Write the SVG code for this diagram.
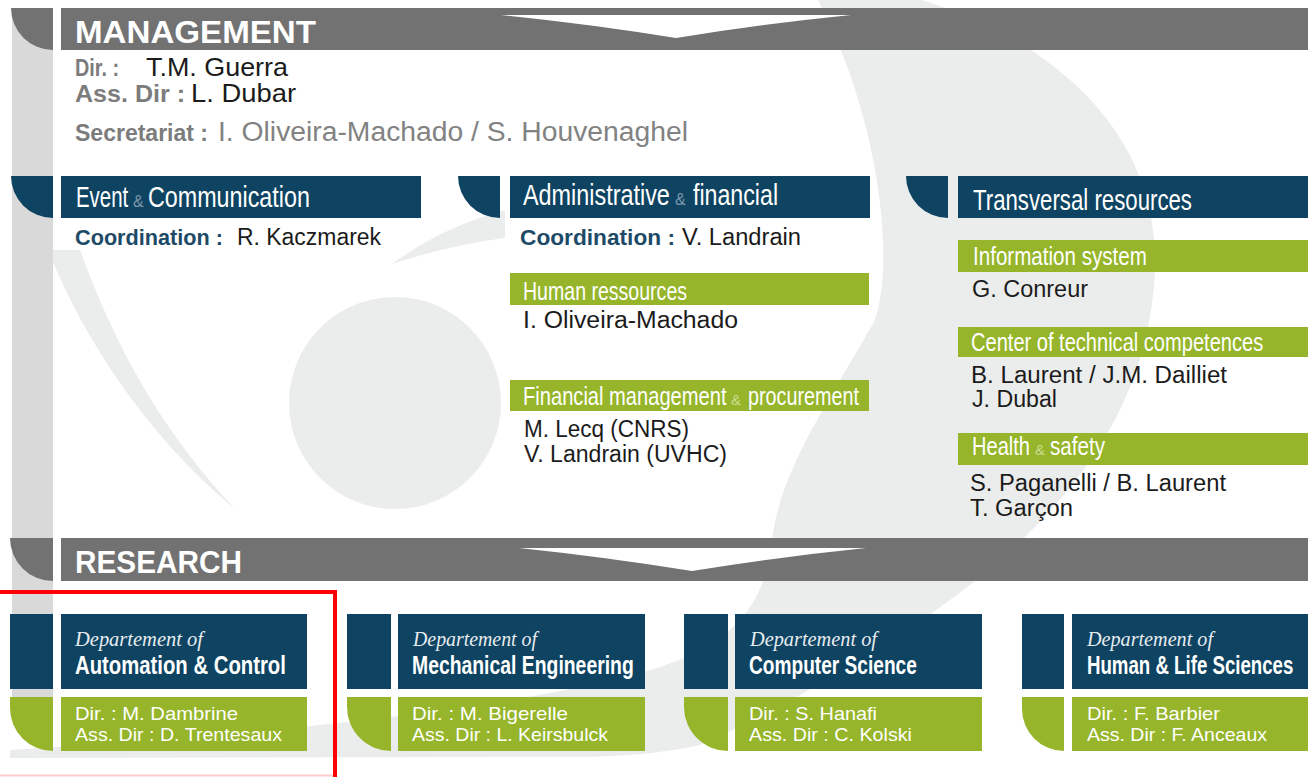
<svg xmlns="http://www.w3.org/2000/svg" width="1308" height="777" viewBox="0 0 1308 777">
<style>
.bgs{fill:#ebedec}
.vbar{fill:#d9d9d9}
.dg{fill:#727272}
.bl{fill:#0e4362}
.gr{fill:#96b52a}
.wh{fill:#ffffff}
.h1{font-family:"Liberation Sans",Arial,sans-serif;font-weight:bold;font-size:32px;fill:#ffffff}
.hd{font-family:"Liberation Sans",Arial,sans-serif;font-size:30px;fill:#ffffff}
.sub{font-family:"Liberation Sans",Arial,sans-serif;font-size:25px;fill:#ffffff}
.amp{font-family:"Liberation Sans",Arial,sans-serif;font-size:16px;fill:#7d98ad}
.ampg{font-family:"Liberation Sans",Arial,sans-serif;font-size:15px;fill:#cadd8f}
.lbl{font-family:"Liberation Sans",Arial,sans-serif;font-weight:bold;font-size:24px;fill:#7c7c7c}
.nm{font-family:"Liberation Sans",Arial,sans-serif;font-size:25px;fill:#1b1b1b}
.sn{font-family:"Liberation Sans",Arial,sans-serif;font-size:27px;fill:#828282}
.co{font-family:"Liberation Sans",Arial,sans-serif;font-weight:bold;font-size:22px;fill:#1d4a66}
.n2{font-family:"Liberation Sans",Arial,sans-serif;font-size:23px;fill:#1b1b1b}
.dep{font-family:"Liberation Serif","DejaVu Serif",serif;font-style:italic;font-size:21px;fill:#ffffff;opacity:0.9}
.dt{font-family:"Liberation Sans",Arial,sans-serif;font-weight:bold;font-size:25px;fill:#ffffff}
.dd{font-family:"Liberation Sans",Arial,sans-serif;font-size:19px;fill:#ffffff}
</style>
<rect width="1308" height="777" fill="#ffffff"/>
<g id="background">
<path class="bgs" d="M818 0 L922 0 C1050 40 1160 130 1155 270 C1150 390 1090 480 1000 560 C920 630 800 700 700 745 C650 756 600 757 560 757 L10 758 L10 750 C250 735 520 710 660 667 C740 640 765 600 772 540 C780 470 830 400 875 320 C895 260 880 120 818 0 Z"/>
<circle class="bgs" cx="395" cy="403" r="106"/>
<path class="bgs" d="M48 250 C80 330 140 430 236 510 C170 440 120 360 80 250 Z"/>
<path class="bgs" d="M392 264 Q440 228 505 210 L505 238 Q450 245 392 264 Z"/>
<rect class="vbar" x="12" y="8" width="41" height="689"/>
</g>
<g id="management">
<path class="dg" d="M11 8 H53 V50 A42 42 0 0 1 11 8 Z"/>
<rect class="dg" x="61" y="8" width="1247" height="42"/>
<text class="h1" x="75" y="43" textLength="241" lengthAdjust="spacingAndGlyphs">MANAGEMENT</text>
<text class="lbl" x="75" y="76" textLength="44" lengthAdjust="spacingAndGlyphs">Dir. :</text>
<text class="nm" x="146" y="76" textLength="142" lengthAdjust="spacingAndGlyphs">T.M. Guerra</text>
<text class="lbl" x="75" y="102" textLength="110" lengthAdjust="spacingAndGlyphs">Ass. Dir :</text>
<text class="nm" x="191" y="102" textLength="105" lengthAdjust="spacingAndGlyphs">L. Dubar</text>
<text class="lbl" x="75" y="141" font-size="23" fill="#808080" textLength="133" lengthAdjust="spacingAndGlyphs">Secretariat :</text>
<text class="sn" x="218" y="141" textLength="470" lengthAdjust="spacingAndGlyphs">I. Oliveira-Machado / S. Houvenaghel</text>
</g>
<g id="event-communication">
<path class="bl" d="M11 176 H53 V218 A42 42 0 0 1 11 176 Z"/>
<rect class="bl" x="61" y="176" width="360" height="42"/>
<text class="hd" transform="matrix(0.68 0 0 1 76 207)">Event</text>
<text class="amp" x="133" y="207">&amp;</text>
<text class="hd" transform="matrix(0.777 0 0 1 148 207)">Communication</text>
<text class="co" x="75" y="245" textLength="148" lengthAdjust="spacingAndGlyphs">Coordination :</text>
<text class="n2" x="237" y="245" textLength="144" lengthAdjust="spacingAndGlyphs">R. Kaczmarek</text>
</g>
<g id="administrative-financial">
<path class="bl" d="M458 176 H500 V218 A42 42 0 0 1 458 176 Z"/>
<rect class="bl" x="510" y="176" width="360" height="42"/>
<text class="hd" transform="matrix(0.78 0 0 1 523 205)">Administrative</text>
<text class="amp" x="675" y="205">&amp;</text>
<text class="hd" transform="matrix(0.773 0 0 1 693 205)">financial</text>
<text class="co" x="520" y="245" textLength="155" lengthAdjust="spacingAndGlyphs">Coordination :</text>
<text class="n2" x="682" y="245" textLength="119" lengthAdjust="spacingAndGlyphs">V. Landrain</text>
</g>
<g id="human-resources">
<rect class="gr" x="510" y="273" width="359" height="32"/>
<text class="sub" transform="matrix(0.782 0 0 1 523 300)">Human ressources</text>
<text class="n2" x="523" y="328" textLength="215" lengthAdjust="spacingAndGlyphs">I. Oliveira-Machado</text>
</g>
<g id="financial-management">
<rect class="gr" x="510" y="380" width="359" height="31"/>
<text class="sub" transform="matrix(0.805 0 0 1 523 405)">Financial management</text>
<text class="ampg" x="731" y="405">&amp;</text>
<text class="sub" transform="matrix(0.791 0 0 1 748 405)">procurement</text>
<text class="n2" x="524" y="437" textLength="165" lengthAdjust="spacingAndGlyphs">M. Lecq (CNRS)</text>
<text class="n2" x="524" y="462" textLength="203" lengthAdjust="spacingAndGlyphs">V. Landrain (UVHC)</text>
</g>
<g id="transversal-resources">
<path class="bl" d="M906 176 H948 V218 A42 42 0 0 1 906 176 Z"/>
<rect class="bl" x="958" y="176" width="350" height="42"/>
<text class="hd" transform="matrix(0.741 0 0 1 973 210)">Transversal resources</text>
</g>
<g id="information-system">
<rect class="gr" x="958" y="240" width="350" height="32"/>
<text class="sub" transform="matrix(0.824 0 0 1 973 265)">Information system</text>
<text class="n2" x="972" y="297" textLength="116" lengthAdjust="spacingAndGlyphs">G. Conreur</text>
</g>
<g id="technical-competences">
<rect class="gr" x="958" y="327" width="350" height="30"/>
<text class="sub" transform="matrix(0.803 0 0 1 971 351)">Center of technical competences</text>
<text class="n2" x="971" y="383" textLength="256" lengthAdjust="spacingAndGlyphs">B. Laurent / J.M. Dailliet</text>
<text class="n2" x="972" y="407" textLength="85" lengthAdjust="spacingAndGlyphs">J. Dubal</text>
</g>
<g id="health-safety">
<rect class="gr" x="958" y="433" width="350" height="32"/>
<text class="sub" transform="matrix(0.803 0 0 1 972 455)">Health</text>
<text class="ampg" x="1035" y="455" font-size="13">&amp;</text>
<text class="sub" transform="matrix(0.825 0 0 1 1050 455)">safety</text>
<text class="n2" x="970" y="491" font-size="22" textLength="256" lengthAdjust="spacingAndGlyphs">S. Paganelli / B. Laurent</text>
<text class="n2" x="970" y="516" font-size="22" textLength="103" lengthAdjust="spacingAndGlyphs">T. Garçon</text>
</g>
<g id="research">
<path class="dg" d="M10 538 H53 V581 A43 43 0 0 1 10 538 Z"/>
<rect class="dg" x="61" y="538" width="1247" height="43"/>
<text class="h1" transform="matrix(0.93 0 0 1 75 573)">RESEARCH</text>
</g>
<g id="connectors">
<path class="wh" d="M501 15 L851 15 Q762 24 676 38 Q590 24 501 15 Z"/>
<path class="wh" d="M519 548 L866 548 Q778 557 692 571 Q605 557 519 548 Z"/>
</g>
<g id="dept-automation">
<rect class="bl" x="10" y="614" width="43" height="75"/>
<rect class="bl" x="61" y="614" width="246" height="75"/>
<path class="gr" d="M10 697 H53 V751 A43 43 0 0 1 10 708 Z"/>
<rect class="gr" x="61" y="697" width="246" height="54"/>
<text class="dep" x="75" y="646" textLength="128" lengthAdjust="spacingAndGlyphs">Departement of</text>
<text class="dt" transform="matrix(0.8125 0 0 1 75 674)">Automation &amp; Control</text>
<text class="dd" x="75" y="720" textLength="163" lengthAdjust="spacingAndGlyphs">Dir. : M. Dambrine</text>
<text class="dd" x="75" y="741" textLength="207" lengthAdjust="spacingAndGlyphs">Ass. Dir : D. Trentesaux</text>
</g>
<g id="dept-mechanical">
<rect class="bl" x="347" y="614" width="44" height="75"/>
<rect class="bl" x="398" y="614" width="247" height="75"/>
<path class="gr" d="M347 697 H391 V751 A44 44 0 0 1 347 707 Z"/>
<rect class="gr" x="398" y="697" width="247" height="54"/>
<text class="dep" x="413" y="646" textLength="124" lengthAdjust="spacingAndGlyphs">Departement of</text>
<text class="dt" transform="matrix(0.775 0 0 1 412 674)">Mechanical Engineering</text>
<text class="dd" x="412" y="720" textLength="156" lengthAdjust="spacingAndGlyphs">Dir. : M. Bigerelle</text>
<text class="dd" x="412" y="741" textLength="196" lengthAdjust="spacingAndGlyphs">Ass. Dir : L. Keirsbulck</text>
</g>
<g id="dept-computer">
<rect class="bl" x="684" y="614" width="44" height="75"/>
<rect class="bl" x="735" y="614" width="247" height="75"/>
<path class="gr" d="M684 697 H728 V751 A44 44 0 0 1 684 707 Z"/>
<rect class="gr" x="735" y="697" width="247" height="54"/>
<text class="dep" x="750" y="646" textLength="127" lengthAdjust="spacingAndGlyphs">Departement of</text>
<text class="dt" transform="matrix(0.765 0 0 1 749 674)">Computer Science</text>
<text class="dd" x="749" y="720" textLength="128" lengthAdjust="spacingAndGlyphs">Dir. : S. Hanafi</text>
<text class="dd" x="749" y="741" textLength="163" lengthAdjust="spacingAndGlyphs">Ass. Dir : C. Kolski</text>
</g>
<g id="dept-human-life">
<rect class="bl" x="1022" y="614" width="42" height="75"/>
<rect class="bl" x="1072" y="614" width="236" height="75"/>
<path class="gr" d="M1022 697 H1064 V751 A42 42 0 0 1 1022 709 Z"/>
<rect class="gr" x="1072" y="697" width="236" height="54"/>
<text class="dep" x="1087" y="646" textLength="126" lengthAdjust="spacingAndGlyphs">Departement of</text>
<text class="dt" transform="matrix(0.747 0 0 1 1087 674)">Human &amp; Life Sciences</text>
<text class="dd" x="1087" y="720" textLength="133" lengthAdjust="spacingAndGlyphs">Dir. : F. Barbier</text>
<text class="dd" x="1087" y="741" textLength="180" lengthAdjust="spacingAndGlyphs">Ass. Dir : F. Anceaux</text>
</g>
<g id="highlight">
<path d="M0 592 H335 V777" fill="none" stroke="#ff0000" stroke-width="4"/>
<path d="M0 775.5 H333" fill="none" stroke="#ffcccc" stroke-width="2"/>
</g>
</svg>
